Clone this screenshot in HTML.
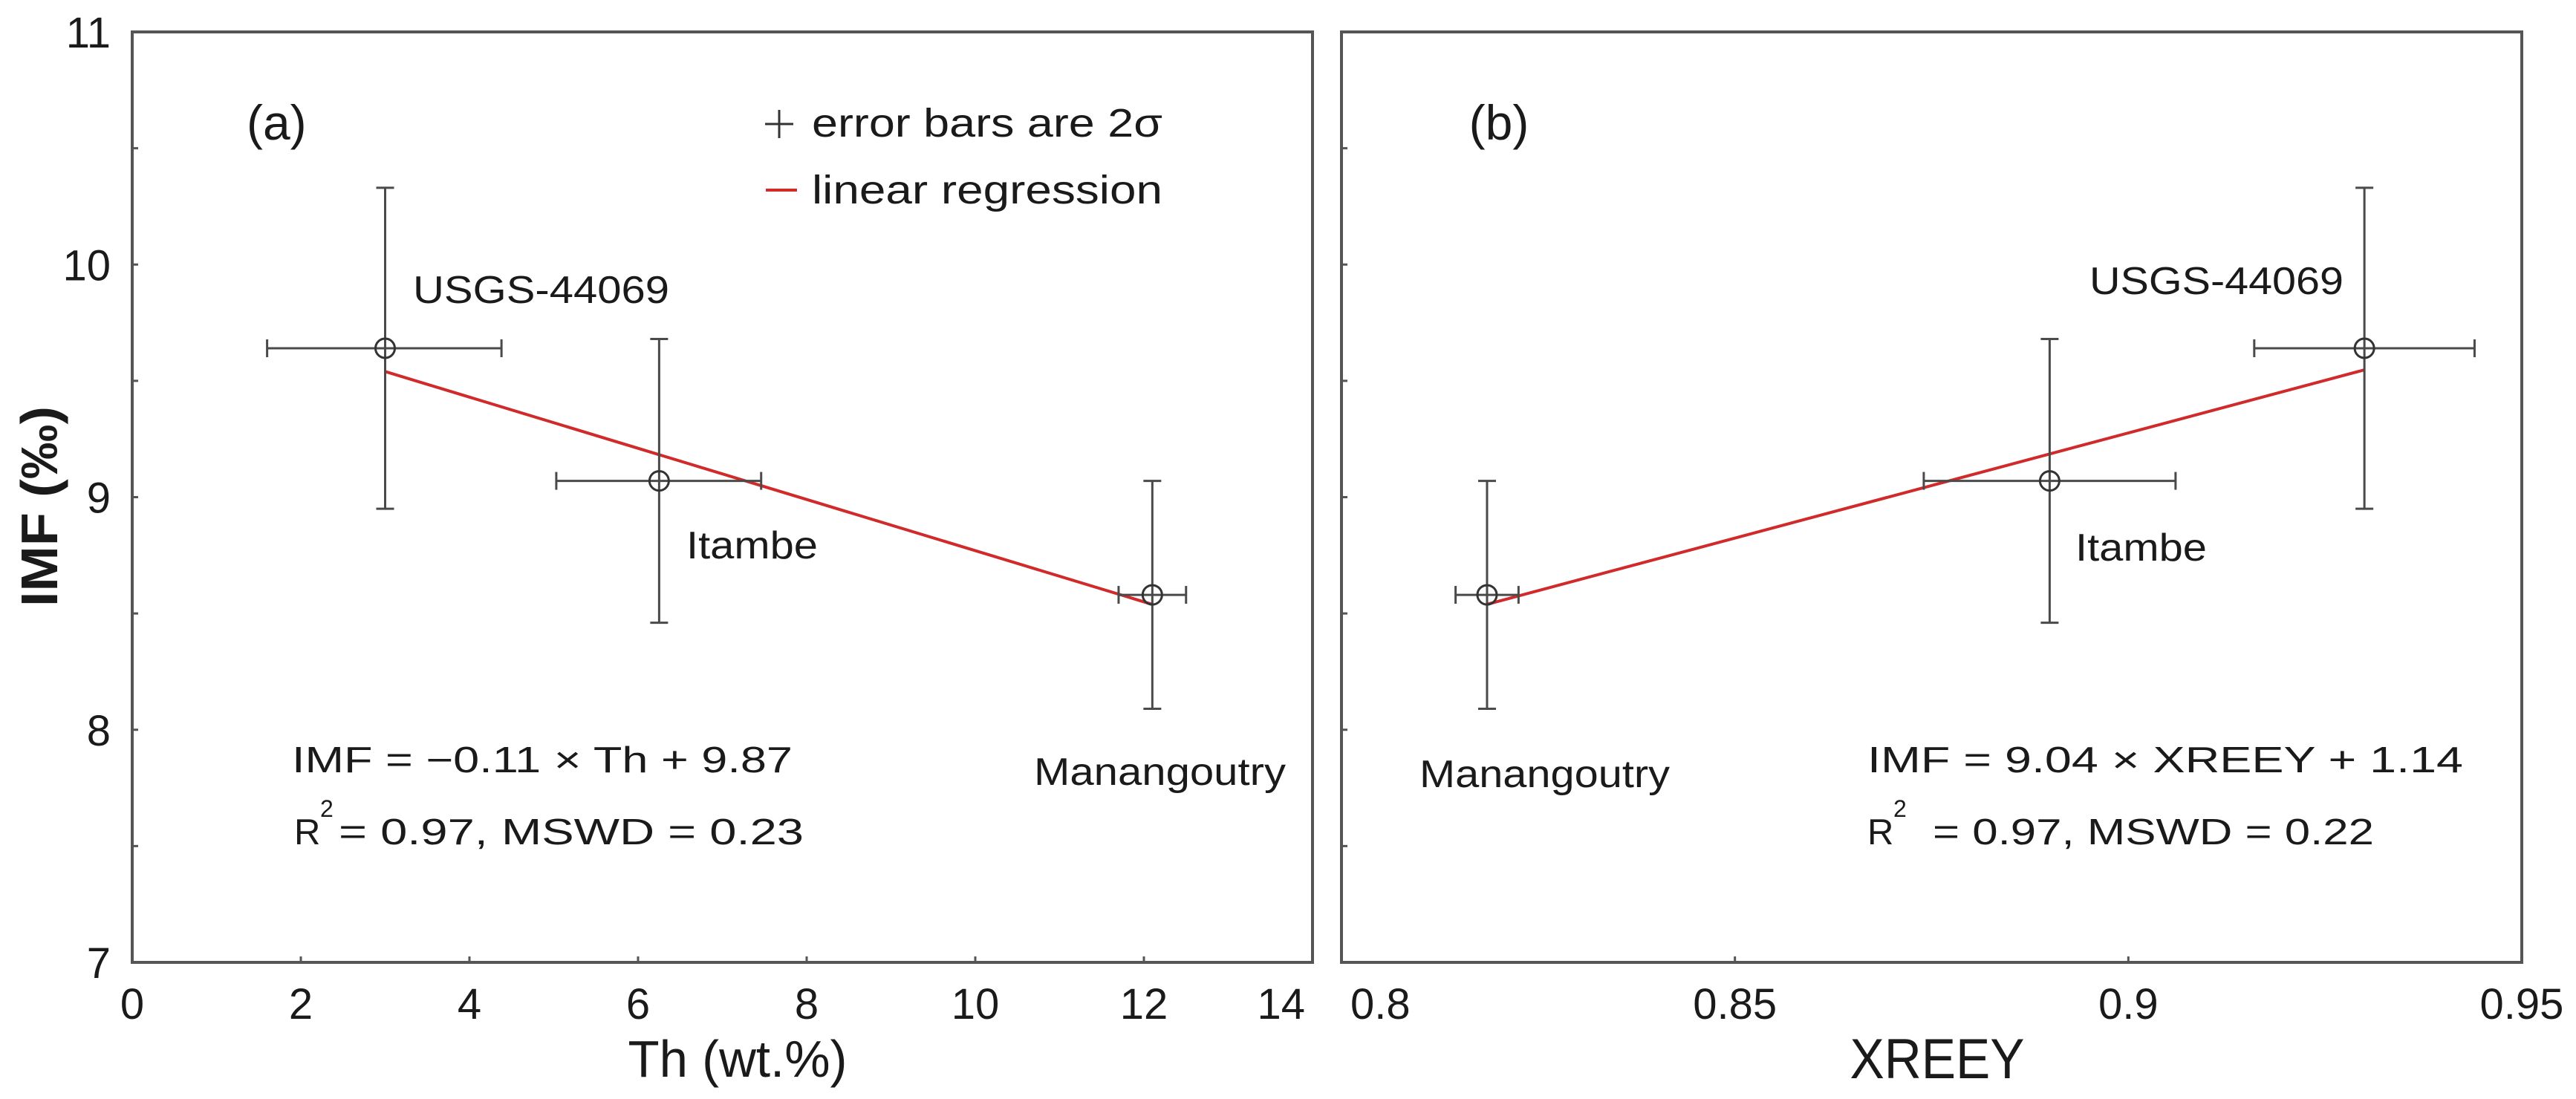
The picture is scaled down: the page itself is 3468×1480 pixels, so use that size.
<!DOCTYPE html>
<html><head><meta charset="utf-8"><style>
html,body{margin:0;padding:0;background:#fff;}
svg{display:block;font-family:"Liberation Sans",sans-serif;}
</style></head><body>
<svg id="chart" width="3468" height="1480" viewBox="0 0 3468 1480" xmlns="http://www.w3.org/2000/svg"></svg>
<script>
// Panel (a) data
const namesA = ["USGS-44069","Itambe","Manangoutry"];
const thA = [3.0, 6.25, 12.1];
const thErrLoA = [1.60, 5.03, 11.7];
const thErrHiA = [4.38, 7.46, 12.5];
const imfA = [9.64, 9.07, 8.58];
const imfErrLoA = [8.95, 8.46, 8.09];
const imfErrHiA = [10.33, 9.68, 9.07];
const regA = [-0.11, 9.87];
const xTicksA = [0,2,4,6,8,10,12,14];
// Panel (b) data
const xreeyB = [0.930, 0.890, 0.8185];
const xErrLoB = [0.916, 0.874, 0.8145];
const xErrHiB = [0.944, 0.906, 0.8225];
const imfB = [9.64, 9.07, 8.58];
const imfErrLoB = [8.95, 8.46, 8.09];
const imfErrHiB = [10.33, 9.68, 9.07];
const regB = [9.04, 1.14];
const xTicksB = [0.8,0.85,0.9,0.95];
const yTicks = [7,8,9,10,11];
const yMinor = [7.5,8.5,9.5,10.5];

const NS="http://www.w3.org/2000/svg";
const svg=document.getElementById('chart');
function el(tag,attrs,parent){const e=document.createElementNS(NS,tag);for(const k in attrs)e.setAttribute(k,attrs[k]);(parent||svg).appendChild(e);return e;}
const Y0=43,Y1=1296;
const yS=v=>Y0+(11-v)*(Y1-Y0)/4;
const pA={x0:178,x1:1767,min:0,max:14};
const pB={x0:1806,x1:3395,min:0.8,max:0.95};
const xS=(p,v)=>p.x0+(v-p.min)*(p.x1-p.x0)/(p.max-p.min);
const GRAY="#4a4a4a";

function text(str,x,y,size,opts){
  const t=el('text',{x:x,y:y,'font-size':size,fill:'#1a1a1a'});
  if(opts&&opts.anchor)t.setAttribute('text-anchor',opts.anchor);
  if(opts&&opts.len){t.setAttribute('textLength',opts.len);t.setAttribute('lengthAdjust','spacingAndGlyphs');}
  if(opts&&opts.weight)t.setAttribute('font-weight',opts.weight);
  t.textContent=str;return t;
}

function panel(p,key,xt,xs,xe0,xe1,ys,ye0,ye1,reg,labelY){
  const g=el('g',{});
  
  
  const fr=el('rect',{x:p.x0,y:Y0,width:p.x1-p.x0,height:Y1-Y0,fill:'none',stroke:'#555','stroke-width':4},g);
  
  
  yTicks.concat(yMinor).forEach(v=>{
    const t=el('line',{x1:p.x0,x2:p.x0+8,y1:yS(v),y2:yS(v),stroke:'#555','stroke-width':3},g);
    
    
  });
  if(labelY){
    yTicks.forEach(v=>{
      const t=text(String(v),149,yS(v)+21,58,{anchor:'end'});
      
      
    });
  }
  xt.forEach((v,i)=>{
    const t=el('line',{x1:xS(p,v),x2:xS(p,v),y1:Y1,y2:Y1-8,stroke:'#555','stroke-width':3},g);
    
    
    let lx=xS(p,v),anc='middle';
    if(key==='a'&&i===xt.length-1){lx=xS(p,v)-10;anc='end';}
    if(key==='b'&&i===0){lx=xS(p,v)+12;anc='start';}
    const l=text(String(v),lx,1372,58,{anchor:anc});
    
    
  });
  const xa=Math.min(...xs),xb=Math.max(...xs);
  const rl=el('line',{x1:xS(p,xa),y1:yS(reg[0]*xa+reg[1]),x2:xS(p,xb),y2:yS(reg[0]*xb+reg[1]),stroke:'#d02a2a','stroke-width':4},g);
  
  
  xs.forEach((v,i)=>{
    const cx=xS(p,v),cy=yS(ys[i]);
    const pg=el('g',{stroke:GRAY,'stroke-width':3,fill:'none'},g);
    
    
    const xl=xS(p,xe0[i]),xr=xS(p,xe1[i]),yt=yS(ye1[i]),yb=yS(ye0[i]);
    el('line',{x1:xl,x2:xr,y1:cy,y2:cy},pg);
    el('line',{x1:xl,x2:xl,y1:cy-12,y2:cy+12},pg);
    el('line',{x1:xr,x2:xr,y1:cy-12,y2:cy+12},pg);
    el('line',{x1:cx,x2:cx,y1:yt,y2:yb},pg);
    el('line',{x1:cx-12,x2:cx+12,y1:yt,y2:yt},pg);
    el('line',{x1:cx-12,x2:cx+12,y1:yb,y2:yb},pg);
    el('circle',{cx:cx,cy:cy,r:13,fill:'none',stroke:'#333'},pg);
  });
}
panel(pA,'a',xTicksA,thA,thErrLoA,thErrHiA,imfA,imfErrLoA,imfErrHiA,regA,true);
panel(pB,'b',xTicksB,xreeyB,xErrLoB,xErrHiB,imfB,imfErrLoB,imfErrHiB,regB,false);

function lab(str,x,y,size,len,name,opts){
  const o=Object.assign({len:len},opts||{});
  const t=text(str,x,y,size,o);
  
  
  return t;
}
lab("(a)",332,188,66,null,'panel-label-a',{});
lab("(b)",2018,188,66,null,'panel-label-b',{anchor:'middle'});
const lc=el('g',{stroke:'#333','stroke-width':3});


el('line',{x1:1030,x2:1068,y1:167,y2:167},lc);
el('line',{x1:1049,x2:1049,y1:148,y2:186},lc);
lab("error bars are 2σ",1093,184,54,472,'legend-errorbars',{});
const lr=el('line',{x1:1031,x2:1073,y1:256,y2:256,stroke:'#d02a2a','stroke-width':4});


lab("linear regression",1093,274,54,472,'legend-regression',{});
lab("USGS-44069",556,408,52,345,'label-usgs-a',{});
lab("Itambe",924,752,52,177,'label-itambe-a',{});
lab("Manangoutry",1392,1057,52,339,'label-manangoutry-a',{});
lab("USGS-44069",2813,396,52,342,'label-usgs-b',{});
lab("Itambe",2794,755,52,177,'label-itambe-b',{});
lab("Manangoutry",1911,1060,52,337,'label-manangoutry-b',{});
lab("IMF  =  −0.11 × Th  +  9.87",393,1040,49,674,'equation-a',{});
lab("R",396,1137,49,null,'r2-a',{});
lab("2",431,1100,32,null,'r2-sup-a',{});
lab("= 0.97, MSWD = 0.23",456,1137,49,626,'stats-a',{});
lab("IMF  =  9.04  ×  XREEY  +  1.14",2514,1040,49,802,'equation-b',{});
lab("R",2514,1137,49,null,'r2-b',{});
lab("2",2549,1100,32,null,'r2-sup-b',{});
lab("= 0.97, MSWD = 0.22",2602,1137,49,594,'stats-b',{});
lab("Th (wt.%)",993,1450,70,295,'x-axis-title-a',{anchor:'middle'});
lab("XREEY",2608,1452,76,235,'x-axis-title-b',{anchor:'middle'});
const yt=text("IMF (‰)",0,0,70,{anchor:'middle',weight:'bold',len:270});
yt.setAttribute('transform','translate(77,682) rotate(-90)');


</script>
</body></html>
